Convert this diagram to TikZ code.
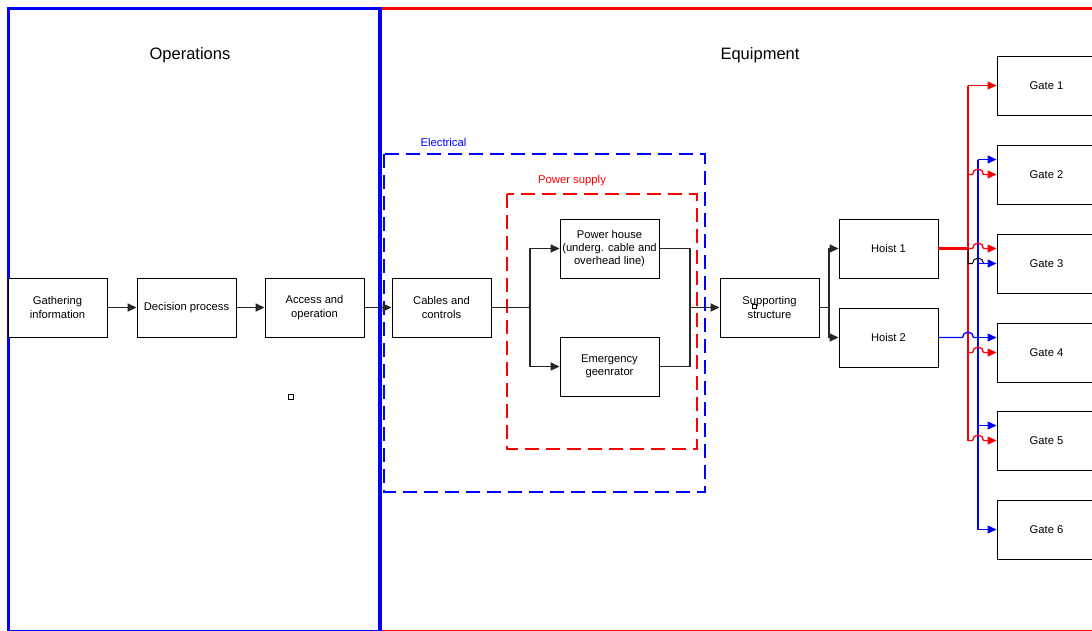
\documentclass[tikz,border=0pt]{standalone}
\usepackage{fontspec}
\setmainfont{Liberation Sans}
\usetikzlibrary{arrows.meta}
\definecolor{pblue}{RGB}{0,0,255}
\definecolor{pred}{RGB}{255,0,0}
\begin{document}
\begin{tikzpicture}[x=1pt,y=-1pt,
  box/.style={draw=black,line width=0.9pt,fill=white,minimum width=99pt,minimum height=59pt,
    inner sep=0pt,align=center,font=\fontsize{11.2}{13.2}\selectfont},
  conn/.style={draw=black!85,line width=1.7pt},
  tip/.style={-{Triangle[length=9pt,width=8pt]}},
  rline/.style={draw=pred,line width=1.3pt},
  bline/.style={draw=pblue,line width=1.3pt},
  grouplbl/.style={font=\fontsize{11.3}{13}\selectfont,inner sep=0pt},
  title/.style={font=\fontsize{16.5}{19}\selectfont,inner sep=0pt},
  handle/.style={draw=black,line width=0.8pt,fill=white,minimum size=4.5pt,inner sep=0pt}]
\useasboundingbox (0,0) rectangle (1092,630);
\fill[white] (0,0) rectangle (1092,630);

% frames of the two areas
\draw[pred,line width=3.2pt] (380,8.7) rectangle (1200,631.5);
\draw[pblue,line width=3.2pt] (8.7,8.7) rectangle (380,631.5);
\node[title] (tops) at (190,55) {Operations};
\node[title] (tequ) at (760,55) {Equipment};

% dashed groups
\draw[pblue,line width=2pt,dash pattern=on 14pt off 7pt] (384,154.3) rectangle (704.5,492.3);
\node[grouplbl,text=pblue] (lel) at (443.5,142) {Electrical};
\draw[pred,line width=2pt,dash pattern=on 14pt off 7pt] (506.7,194.3) rectangle (696.5,449.3);
\node[grouplbl,text=pred] (lps) at (572,181) {Power supply};

% process boxes
\node[box] (gi) at (57.5,307.5) {Gathering\\information};
\node[box] (dp) at (186.5,307.5) {Decision process};
\node[box] (ao) at (314.5,307.5) {Access and\\operation};
\node[box] (cc) at (441.5,307.5) {Cables and\\controls};
\node[box] (ph) at (609.5,248.5) {Power house\\(underg. cable and\\overhead line)};
\node[box] (eg) at (609.5,366.5) {Emergency\\geenrator};
\node[box] (ss) at (769.5,307.5) {Supporting\\structure};
\node[box] (h1) at (888.5,248.5) {Hoist 1};
\node[box] (h2) at (888.5,337.5) {Hoist 2};
\node[box] (g1) at (1046.5,85.5) {Gate 1};
\node[box] (g2) at (1046.5,174.5) {Gate 2};
\node[box] (g3) at (1046.5,263.5) {Gate 3};
\node[box] (g4) at (1046.5,352.5) {Gate 4};
\node[box] (g5) at (1046.5,440.5) {Gate 5};
\node[box] (g6) at (1046.5,529.5) {Gate 6};

% small selection handles
\node[handle] (hd1) at (291,397) {};
\node[handle,minimum size=4pt] (hd2) at (754.5,306) {};

% junction points
\coordinate (sp1) at (530,307.5);
\coordinate (mg1) at (690,307.5);
\coordinate (sp2) at (829,307.5);

% main chain
\draw[conn,tip] (gi) -- (dp);
\draw[conn,tip] (dp) -- (ao);
\draw[conn,tip] (ao) -- (cc);
\draw[conn] (cc) -- (sp1);
\draw[conn,tip] (sp1) |- (ph.west);
\draw[conn,tip] (sp1) |- (eg.west);
\draw[conn] (ph.east) -| (mg1);
\draw[conn] (eg.east) -| (mg1);
\draw[conn,tip] (mg1) -- (ss);
\draw[conn] (ss) -- (sp2);
\draw[conn,tip] (sp2) |- (h1.west);
\draw[conn,tip] (sp2) |- (h2.west);

% buses towards the gates
\coordinate (rtop) at (968,85.5);
\coordinate (rbot) at (968,440.5);
\coordinate (btop) at (978,159.5);
\coordinate (bbot) at (978,529.5);
\draw[pred,line width=2pt] (rtop) -- (rbot);
\draw[pblue,line width=1.6pt] (btop) -- (bbot);

% red feeds (hoist 1)
\draw[rline,tip] (rtop) -- (g1.west);
\draw[rline,tip] (968,174.5) -- (972.5,174.5) arc[start angle=180,end angle=0,radius=5.5pt] -- (g2.west);
\draw[pred,line width=2.4pt] (h1.east) -- (968,248.5);
\draw[rline,tip] (968,248.5) -- (972.5,248.5) arc[start angle=180,end angle=0,radius=5.5pt] -- ([yshift=15pt]g3.west);
\draw[rline,tip] (968,352.5) -- (972.5,352.5) arc[start angle=180,end angle=0,radius=5.5pt] -- (g4.west);
\draw[rline,tip] (rbot) -- (972.5,440.5) arc[start angle=180,end angle=0,radius=5.5pt] -- (g5.west);

% blue feeds (hoist 2)
\draw[bline] (h2.east) -- (962.5,337.5) arc[start angle=180,end angle=0,radius=5.5pt] -- (978,337.5);
\draw[bline,tip] (btop) -- ([yshift=15pt]g2.west);
\draw[black,line width=1pt] (968,249) -- (968,263.5) -- (972.5,263.5) arc[start angle=180,end angle=0,radius=5.5pt] -- (985,263.5);
\draw[bline,tip] (978,263.5) -- (g3.west);
\draw[bline,tip] (978,337.5) -- ([yshift=15pt]g4.west);
\draw[bline,tip] (978,425.5) -- ([yshift=15pt]g5.west);
\draw[bline,tip] (bbot) -- (g6.west);
\end{tikzpicture}
\end{document}
